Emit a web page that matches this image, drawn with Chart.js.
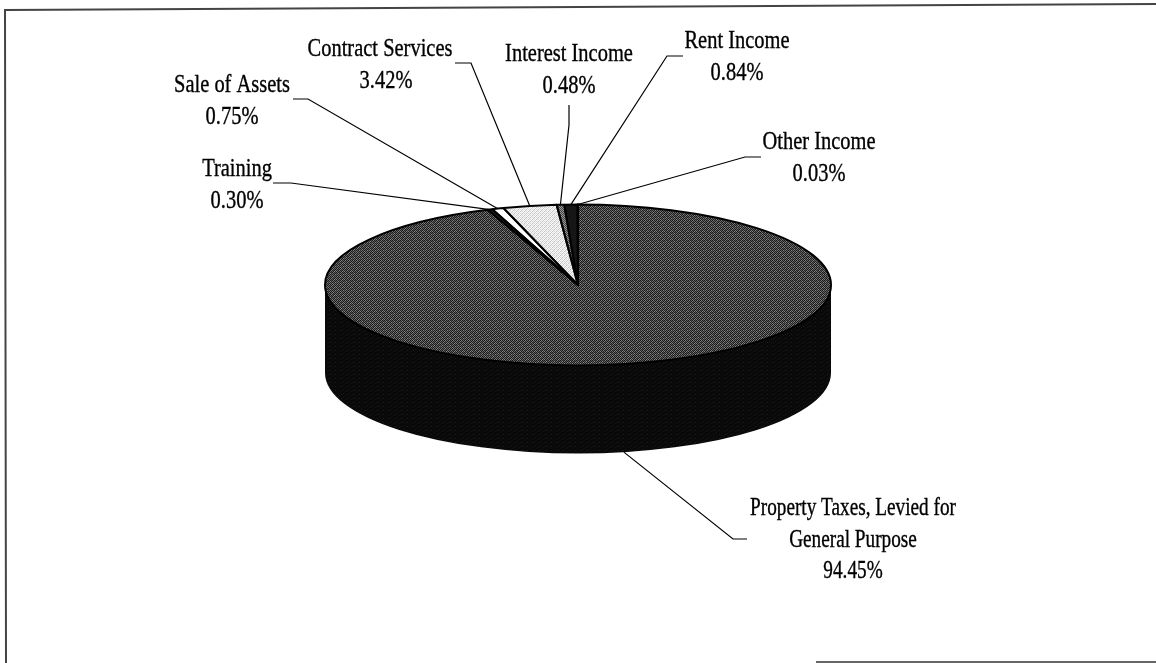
<!DOCTYPE html>
<html>
<head>
<meta charset="utf-8">
<title>Revenue by Source</title>
<script src="https://cdn.jsdelivr.net/npm/chart.js@4"></script>
<style>
    html, body { margin: 0; padding: 0; background: #ffffff; }
    canvas { display: block; }
</style>
</head>
<body>
<canvas id="revenueChart" width="1156" height="663"></canvas>
<script>
const categories = [
    ['Property Taxes, Levied for', 'General Purpose'],
    ['Training'],
    ['Sale of Assets'],
    ['Contract Services'],
    ['Interest Income'],
    ['Rent Income'],
    ['Other Income']
];
const shares = [94.45, 0.30, 0.75, 3.42, 0.48, 0.84, 0.03];

// label placement: [center x, first baseline], same order as categories
const labelSpots = [
    [853, 515], [237, 176], [232, 92], [380, 56], [569, 61], [737, 48], [819, 149]
];
// horizontal squeeze of each label, and how far its percent line sits off center
const labelSqueeze = [0.785, 0.835, 0.835, 0.835, 0.835, 0.835, 0.835];
const percentShift = [0, 0, 0, 6, 0, 0, 0];
// leader lines: outer end, then the elbow where they turn toward the pie
const leaderEnds = [
    [747, 539], [273, 183], [293, 99], [455, 63], [569, 105], [683, 56], [761, 157]
];
const leaderElbows = [
    [733, 539], [291, 183], [308, 99], [471, 63], [569, 125], [667, 56], [745, 157]
];

const PIE_X = 578;
const PIE_Y = 285;
const PIE_RADIUS = 253;
const TILT = 0.318;   // vertical squash of the pie disc
const DEPTH = 88;     // height of the pie wall
const FONT = '24.5px "Liberation Serif", serif';
const LINE_GAP = 31.5;


// small repeating halftone tile, rows of gray levels
function halftone(rows, flatten) {
    const tile = document.createElement('canvas');
    tile.width = rows[0].length;
    tile.height = rows.length;
    const tileCtx = tile.getContext('2d');
    rows.forEach((row, y) => {
        row.forEach((level, x) => {
            tileCtx.fillStyle = `rgb(${level},${level},${level})`;
            tileCtx.fillRect(x, y, 1, 1);
        });
    });
    const pattern = tileCtx.createPattern(tile, 'repeat');
    if (flatten) {
        // keeps the dots square while the disc is drawn squashed
        pattern.setTransform(new DOMMatrix([1, 0, 0, 1 / TILT, 0, 0]));
    }
    return pattern;
}

const topGray = halftone([
    [25, 120, 30, 95, 20, 135, 35, 100],
    [110, 35, 85, 30, 125, 30, 90, 25],
    [30, 90, 20, 130, 35, 80, 25, 120],
    [130, 25, 105, 30, 95, 25, 140, 35],
    [20, 100, 35, 75, 25, 125, 30, 85],
    [95, 30, 140, 25, 110, 30, 80, 30],
    [35, 125, 25, 90, 30, 95, 25, 135],
    [85, 30, 100, 35, 130, 20, 105, 30]
], true);
const lightGray = halftone([
    [245, 225, 250, 205],
    [215, 250, 190, 245],
    [250, 200, 240, 230],
    [195, 240, 220, 250]
], true);
const midGray = halftone([
    [70, 150],
    [150, 70]
], true);
const wallBlack = halftone([
    [8, 8, 14, 8, 8, 8],
    [8, 22, 8, 8, 12, 8],
    [8, 8, 8, 8, 8, 30],
    [14, 8, 8, 20, 8, 8]
], false);

const sliceFills = [topGray, '#2b2b2b', '#ffffff', lightGray, midGray, '#161616', '#555555'];


// the visible part of the wall runs from 0 to PI in canvas angles
function drawWall(ctx) {
    ctx.save();
    ctx.beginPath();
    ctx.ellipse(PIE_X, PIE_Y, PIE_RADIUS, PIE_RADIUS * TILT, 0, 0, Math.PI);
    ctx.ellipse(PIE_X, PIE_Y + DEPTH, PIE_RADIUS, PIE_RADIUS * TILT, 0, Math.PI, 0, true);
    ctx.closePath();
    ctx.fillStyle = wallBlack;
    ctx.fill();
    ctx.restore();
}


function drawSliceOutlines(ctx, arcs) {
    ctx.save();
    ctx.strokeStyle = '#000000';
    ctx.lineWidth = 2;
    ctx.lineJoin = 'round';
    for (const arc of arcs) {
        ctx.beginPath();
        ctx.moveTo(PIE_X, PIE_Y);
        ctx.ellipse(PIE_X, PIE_Y, PIE_RADIUS, PIE_RADIUS * TILT, 0, arc.startAngle, arc.endAngle);
        ctx.closePath();
        ctx.stroke();
    }
    ctx.restore();
}


function drawLeaders(ctx, arcs) {
    ctx.save();
    ctx.strokeStyle = '#000000';
    ctx.lineWidth = 1.2;
    arcs.forEach((arc, i) => {
        const mid = (arc.startAngle + arc.endAngle) / 2;
        let y = PIE_Y + PIE_RADIUS * TILT * Math.sin(mid);
        if (Math.sin(mid) > 0) {
            y += DEPTH;
        }
        ctx.beginPath();
        ctx.moveTo(leaderEnds[i][0], leaderEnds[i][1]);
        ctx.lineTo(leaderElbows[i][0], leaderElbows[i][1]);
        ctx.lineTo(PIE_X + PIE_RADIUS * Math.cos(mid), y);
        ctx.stroke();
    });
    ctx.restore();
}


function drawLabels(ctx) {
    ctx.save();
    ctx.font = FONT;
    ctx.fillStyle = '#000000';
    ctx.strokeStyle = '#000000';
    ctx.lineWidth = 0.35;
    ctx.textAlign = 'center';
    categories.forEach((lines, i) => {
        const rows = lines.concat(shares[i].toFixed(2) + '%');
        rows.forEach((text, row) => {
            const isPercent = row === rows.length - 1;
            ctx.save();
            ctx.translate(
                labelSpots[i][0] + (isPercent ? percentShift[i] : 0),
                labelSpots[i][1] + row * LINE_GAP
            );
            ctx.scale(labelSqueeze[i], 1);
            ctx.fillText(text, 0, 0);
            ctx.strokeText(text, 0, 0);
            ctx.restore();
        });
    });
    ctx.restore();
}


// open frame: left and top edges, and the stub along the bottom right
function drawFrame(ctx) {
    ctx.save();
    ctx.strokeStyle = '#444444';
    ctx.lineWidth = 2;
    ctx.beginPath();
    ctx.moveTo(6, 663);
    ctx.lineTo(5, 10);
    ctx.lineTo(1156, 4);
    ctx.stroke();
    ctx.strokeStyle = '#666666';
    ctx.beginPath();
    ctx.moveTo(816, 662);
    ctx.lineTo(1156, 662);
    ctx.stroke();
    ctx.restore();
}


const tiltedPie = {
    id: 'tiltedPie',
    beforeDatasetsDraw(chart) {
        const ctx = chart.ctx;
        const meta = chart.getDatasetMeta(0);
        const first = meta.data[0];
        drawFrame(ctx);
        drawWall(ctx);
        ctx.save();
        ctx.imageSmoothingEnabled = false;
        ctx.translate(PIE_X, PIE_Y);
        ctx.scale(1, TILT);
        ctx.translate(-first.x, -first.y);
    },
    afterDatasetsDraw(chart) {
        const ctx = chart.ctx;
        const arcs = chart.getDatasetMeta(0).data;
        ctx.restore();
        drawSliceOutlines(ctx, arcs);
        drawLeaders(ctx, arcs);
        drawLabels(ctx);
    }
};


new Chart(document.getElementById('revenueChart'), {
    type: 'pie',
    data: {
        labels: categories.map((lines) => lines.join(' ')),
        datasets: [
            {
                data: shares,
                backgroundColor: sliceFills,
                borderWidth: 0,
                radius: PIE_RADIUS
            }
        ]
    },
    options: {
        responsive: false,
        animation: false,
        events: [],
        plugins: {
            legend: { display: false },
            tooltip: { enabled: false }
        }
    },
    plugins: [tiltedPie]
});
</script>
</body>
</html>
